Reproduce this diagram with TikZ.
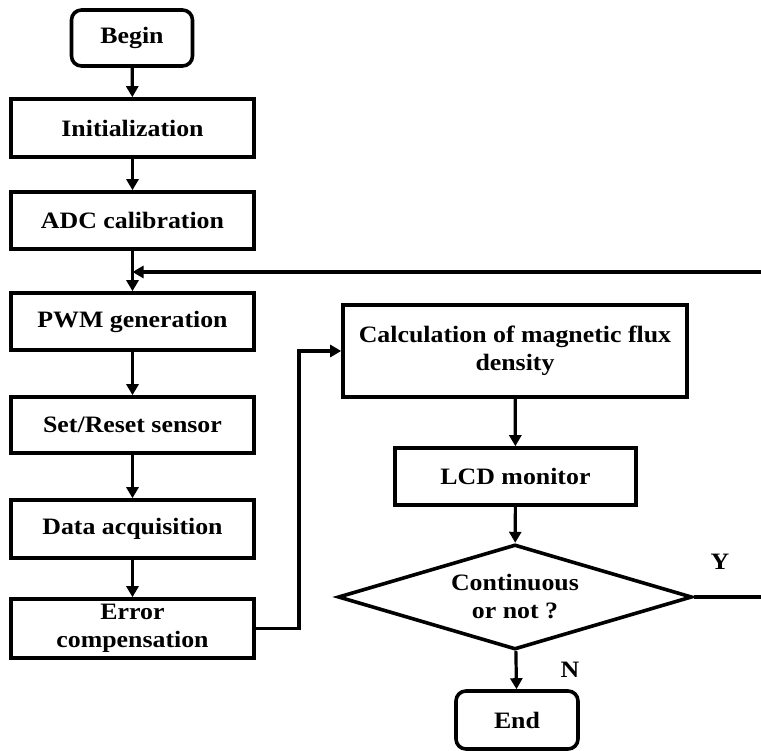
\documentclass[tikz,border=0pt]{standalone}
\usepackage{fontspec}
\setmainfont{Liberation Serif}[FakeStretch=1.1]
\usetikzlibrary{arrows.meta,shapes.geometric}
\begin{document}
\begin{tikzpicture}[x=1pt,y=-1pt,
  every node/.style={font=\fontsize{23.5}{28}\selectfont\bfseries, align=center, inner sep=0pt},
  box/.style={draw, line width=3.6pt, minimum width=243pt, minimum height=57pt},
  term/.style={draw, line width=3.6pt, rounded corners=10pt, minimum width=121pt, minimum height=56pt},
  decision/.style={draw, diamond, aspect=3.37, line width=3.6pt, minimum width=354pt, minimum height=105pt},
  conn/.style={line width=3.2pt, -{Triangle[length=11pt,width=12pt]}},
  plain/.style={line width=3.2pt},
  lbl/.style={font=\fontsize{23.5}{28}\selectfont\bfseries}]
\useasboundingbox (0,0) rectangle (761,751);
\node[term] (begin) at (132,38) {Begin};
\node[box, minimum height=58pt] (init) at (132.5,128) {Initialization};
\node[box] (adc) at (132.5,220.5) {ADC calibration};
\node[box] (pwm) at (132.5,321.5) {PWM generation};
\node[box, minimum height=56pt] (set) at (132.5,425) {Set/Reset sensor};
\node[box, minimum height=58pt] (data) at (132.5,529) {Data acquisition};
\node[box, minimum height=59pt] (err) at (132.5,628.5) {Error\\compensation};
\node[box, minimum width=344pt, minimum height=92pt] (calc) at (515,351) {Calculation of magnetic flux\\density};
\node[box, minimum width=241pt] (lcd) at (515.5,476.5) {LCD monitor};
\node[decision] (dec) at (515,597) {Continuous\\or not ?};
\node[term, minimum width=122pt, minimum height=58pt] (end) at (517,720) {End};
\node[lbl] (y) at (720,562) {Y};
\node[lbl] (n) at (570,670) {N};
\coordinate (loopR) at (761,272);
\coordinate (loopJ) at (132.5,272);
\coordinate (yR) at (761,597);
\coordinate (bend) at (299,351);
\draw[conn] (begin) -- (init);
\draw[conn] (init) -- (adc);
\draw[conn] (adc) -- (pwm);
\draw[conn] (loopR) -- (loopJ);
\draw[conn] (pwm) -- (set);
\draw[conn] (set) -- (data);
\draw[conn] (data) -- (err);
\draw[conn] (err.east) -| (bend) -- (calc.west);
\draw[conn] (calc) -- (lcd);
\draw[conn] (lcd) -- (dec);
\draw[conn] (dec) -- (end);
\draw[plain] (dec.east) -- (yR);
\end{tikzpicture}
\end{document}
